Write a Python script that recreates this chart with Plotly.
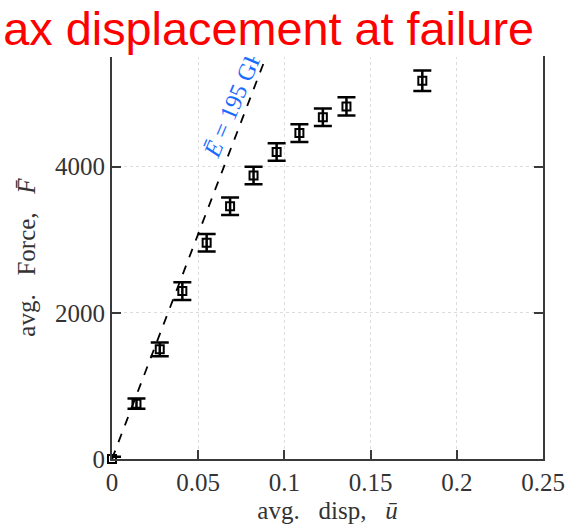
import plotly.graph_objects as go

# data
disp = [0.0, 0.0142, 0.0277, 0.0408, 0.0549, 0.0685, 0.0821, 0.0955, 0.1087, 0.1223, 0.136, 0.180]
force = [0, 757, 1500, 2297, 2960, 3459, 3878, 4200, 4459, 4676, 4824, 5176]
force_err = [30, 70, 95, 120, 120, 120, 120, 120, 120, 120, 125, 140]

fit_disp = [0.0, 0.1]
fit_force = [0.0, 6160.0]  # E = 195 GPa line

x_ticks = [0, 0.05, 0.1, 0.15, 0.2, 0.25]
x_ticklabels = ["0", "0.05", "0.1", "0.15", "0.2", "0.25"]
y_ticks = [0, 2000, 4000]
y_ticklabels = ["0", "2000", "4000"]

title_text = "ax displacement at failure"
NB = "\u00a0"
fit_label = "<i>Ē</i>" + NB + "=" + NB + "195 GPa"
x_title = "avg." + NB * 3 + "disp," + NB * 3 + "<i>ū</i>"
y_title = "avg." + NB * 3 + "Force," + NB * 3 + "<i>F̄</i>"

serif = "Liberation Serif"
axis_col = "#3a3a3a"

W, H = 577, 532
ML, MR, MT, MB = 112, 24, 56, 68
PW, PH = W - ML - MR, H - MT - MB

fig = go.Figure()
fig.add_trace(go.Scatter(
    x=fit_disp, y=fit_force, mode="lines",
    line=dict(color="black", width=1.8, dash="dash"),
    showlegend=False, hoverinfo="skip"))
fig.add_trace(go.Scatter(
    x=disp, y=force, mode="markers",
    marker=dict(symbol="square-open", size=8, color="black", line=dict(width=2, color="black")),
    error_y=dict(type="data", array=force_err, color="black", thickness=2.5, width=9),
    cliponaxis=False, showlegend=False))

fig.update_layout(
    width=W, height=H,
    margin=dict(l=ML, r=MR, t=MT, b=MB),
    paper_bgcolor="white", plot_bgcolor="white",
    font=dict(family=serif, size=24, color="#333333"),
    xaxis=dict(
        range=[0, 0.25], tickvals=x_ticks, ticktext=x_ticklabels,
        showline=True, linecolor=axis_col, linewidth=2, mirror=False,
        ticks="inside", ticklen=9, tickwidth=2, tickcolor=axis_col,
        showgrid=True, gridcolor="#dcdcdc", gridwidth=1, griddash="dot",
        zeroline=False, tickfont=dict(size=25),
        title=dict(text=x_title, font=dict(family=serif, size=25, color="#333333"), standoff=6),
    ),
    yaxis=dict(
        range=[0, 5514], tickvals=y_ticks, ticktext=y_ticklabels,
        showline=True, linecolor=axis_col, linewidth=2, mirror="ticks",
        ticks="inside", ticklen=9, tickwidth=2, tickcolor=axis_col,
        showgrid=True, gridcolor="#dcdcdc", gridwidth=1, griddash="dot",
        zeroline=False, tickfont=dict(size=25),
        title=dict(text=y_title, font=dict(family=serif, size=25, color="#333333"), standoff=12),
    ),
)

fig.add_annotation(
    x=0.0712, y=4930, xref="x", yref="y", text=fit_label, showarrow=False,
    textangle=-67, font=dict(family=serif, size=24, color="#1a6cff"))

# title box (white background hides what lies above the axes, as in the reference)
fig.add_annotation(
    x=-ML / PW, y=1 + MT / PH, xref="paper", yref="paper",
    xanchor="left", yanchor="top", width=531, height=MT,
    align="right", valign="middle", bgcolor="white", borderpad=0, borderwidth=0,
    text=title_text, showarrow=False,
    font=dict(family="Liberation Sans", size=46.8, color="red"))

fig.write_html("out.html")
